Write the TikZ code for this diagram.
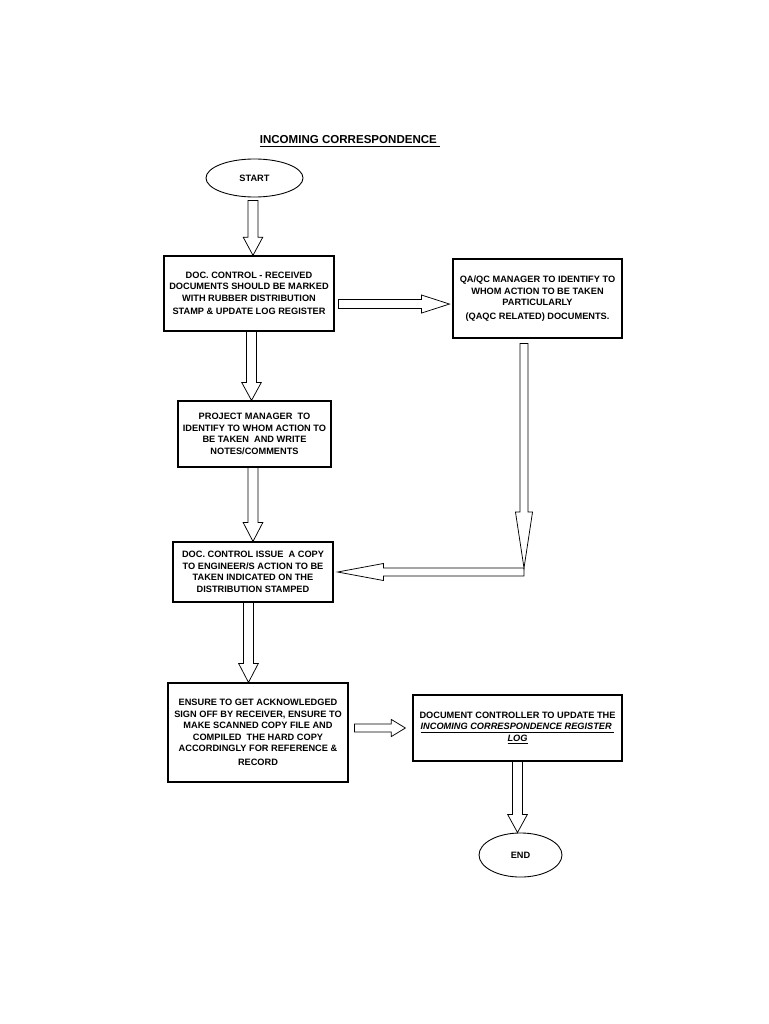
\documentclass[tikz,border=0pt]{standalone}
\usepackage{fontspec}
\setmainfont{Liberation Sans}
\usepackage{tikz}
\usetikzlibrary{shapes.geometric, calc}

\def\arrhl{14.5pt}
\def\arrsw{3.9pt}
\def\arrhw{7.8pt}
\tikzset{headlen/.store in=\arrhl, shafthw/.store in=\arrsw, headhw/.store in=\arrhw}

\tikzstyle{block} = [draw, line width=0.9pt, rectangle, align=center, inner sep=0pt, font=\fontsize{7.35}{9.2}\selectfont\bfseries]
\tikzstyle{terminal} = [draw, line width=0.7pt, ellipse, inner sep=0pt, font=\fontsize{7.35}{9.2}\selectfont\bfseries]
\tikzstyle{hollow} = [draw, line width=0.6pt, to path={let \p1=(\tikztostart), \p2=(\tikztotarget), \p3=($(\p2)!\arrhl!(\p1)$) in
  ($(\p1)!\arrsw!90:(\p2)$) -- ($(\p3)!\arrsw!90:(\p2)$) -- ($(\p3)!\arrhw!90:(\p2)$) -- (\p2)
  -- ($(\p3)!\arrhw!-90:(\p2)$) -- ($(\p3)!\arrsw!-90:(\p2)$) -- ($(\p1)!\arrsw!-90:(\p2)$) -- cycle}]

\begin{document}
\begin{tikzpicture}[x=0.028cm, y=-0.028cm]
  \fill [white] (0,0) rectangle (768,1024);
  \useasboundingbox (0,0) rectangle (768,1024);

  \node [anchor=base, font=\fontsize{9.2}{11}\selectfont\bfseries] (title) at (350,144) {\underline{INCOMING CORRESPONDENCE\ }};

  \node [terminal, minimum width=77.3pt, minimum height=30.3pt] (start) at (254.5,178) {START};
  \node [block, minimum width=135.4pt, minimum height=59.8pt] (receive) at (249,293.5)
    {DOC. CONTROL - RECEIVED\\DOCUMENTS SHOULD BE MARKED\\WITH RUBBER DISTRIBUTION\\[1.5pt]STAMP \& UPDATE LOG REGISTER};
  \node [block, minimum width=134.6pt, minimum height=62.9pt] (qaqc) at (537.5,298.5)
    {QA/QC MANAGER TO IDENTIFY TO\\WHOM ACTION TO BE TAKEN\\PARTICULARLY\\[1.5pt](QAQC RELATED) DOCUMENTS.};
  \node [block, minimum width=121.9pt, minimum height=52.6pt] (pm) at (254.5,434)
    {PROJECT MANAGER\ \ TO\\IDENTIFY TO WHOM ACTION TO\\BE TAKEN\ \ AND WRITE\\NOTES/COMMENTS};
  \node [block, minimum width=127.5pt, minimum height=47.8pt] (issue) at (253,572)
    {DOC. CONTROL ISSUE\ \ A COPY\\TO ENGINEER/S ACTION TO BE\\TAKEN INDICATED ON THE\\DISTRIBUTION STAMPED};
  \node [block, minimum width=143.4pt, minimum height=78.9pt] (ensure) at (258,732.5)
    {ENSURE TO GET ACKNOWLEDGED\\SIGN OFF BY RECEIVER, ENSURE TO\\MAKE SCANNED COPY FILE AND\\COMPILED\ \ THE HARD COPY\\ACCORDINGLY FOR REFERENCE \&\\[2pt]RECORD};
  \node [block, minimum width=166.5pt, minimum height=52.6pt] (update) at (517.5,728)
    {DOCUMENT CONTROLLER TO UPDATE THE\\\underline{\textit{INCOMING CORRESPONDENCE REGISTER\ }}\\\underline{\textit{LOG}}};
  \node [terminal, minimum width=66.1pt, minimum height=35.1pt] (end) at (520.5,855) {END};
  \coordinate (bend) at (524,572);

  \draw [hollow] ([xshift=-1.2pt,yshift=-2.4pt]start.south) to ([xshift=-1.2pt]start.south |- receive.north);
  \draw [hollow, headlen=22.3pt, shafthw=3.6pt, headhw=7.2pt] ([xshift=3.2pt,yshift=-8.4pt]receive.east) to ([xshift=-2.4pt,yshift=-8.4pt]receive.east -| qaqc.west);
  \draw [hollow, headlen=14.3pt] ([xshift=2pt]receive.south) to ([xshift=2pt]receive.south |- pm.north);
  \draw [hollow, headlen=15pt] ([xshift=-1.2pt]pm.south) to ([xshift=-1.2pt]pm.south |- issue.north);
  \draw [hollow, headlen=44.6pt, shafthw=3.2pt, headhw=6.8pt] ([yshift=-4pt]qaqc.south -| bend) to ([yshift=3.2pt]bend);
  \draw [hollow, headlen=36.6pt, shafthw=3.2pt, headhw=6.8pt] (bend) to ([xshift=3.2pt]bend -| issue.east);
  \draw [hollow, headlen=15pt] ([xshift=-3.6pt]issue.south) to ([xshift=-3.6pt]issue.south |- ensure.north);
  \draw [hollow, headlen=11.2pt, shafthw=3.2pt, headhw=6.8pt] ([xshift=4.8pt]ensure.east |- update.west) to ([xshift=-5.6pt]update.west);
  \draw [hollow, headlen=14.3pt] (update.south) to (update.south |- end.north);
\end{tikzpicture}
\end{document}
